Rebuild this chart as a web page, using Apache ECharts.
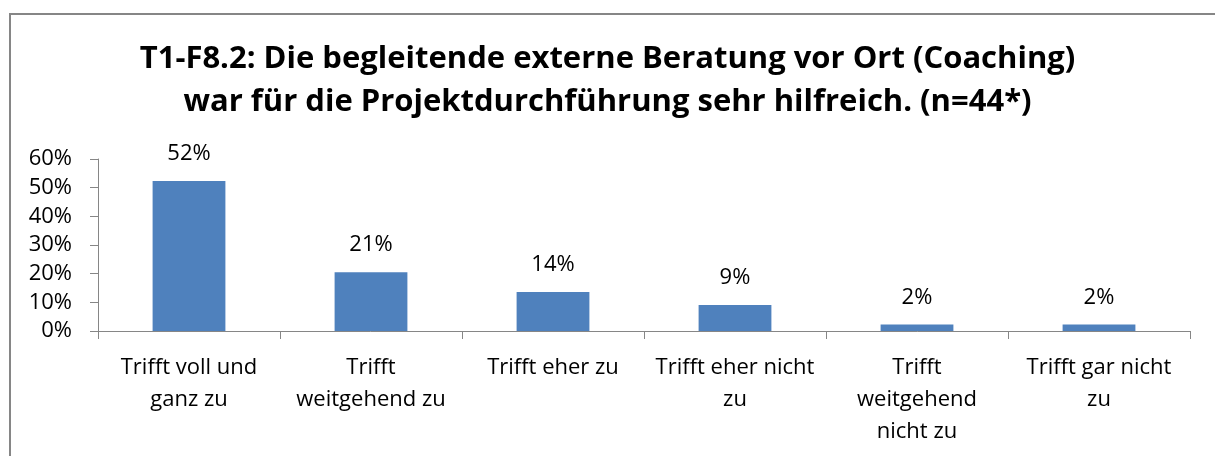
<!DOCTYPE html>
<html>
	<head>
		<meta charset="UTF-8">
		<title></title>
		<style>
			body { margin: 0; background: #fff; }
			#frame { position: absolute; left: 9px; top: 13px; width: 1220px; height: 460px; border-left: 2px solid #868686; border-top: 2px solid #868686; }
			#echart { position: absolute; left: 0; top: 0; width: 1215px; height: 456px; }
		</style>
	</head>
	<body>
		<div id="frame"></div>
		<div id="echart"></div>
		<script src="https://cdn.jsdelivr.net/npm/echarts@6/dist/echarts.min.js" type="text/javascript" charset="utf-8"></script>
		<script type="text/javascript">
			// Antwortkategorien (Umbruch wie im Original)
			var categories = ['Trifft voll und\nganz zu', 'Trifft\nweitgehend zu', 'Trifft eher zu', 'Trifft eher nicht\nzu', 'Trifft\nweitgehend\nnicht zu', 'Trifft gar nicht\nzu'];
			// Anteile in %, n=44
			var shares = [52.3, 20.5, 13.6, 9.1, 2.3, 2.3];
			var yTicks = [0, 10, 20, 30, 40, 50, 60];
			var titleText = 'T1-F8.2: Die begleitende externe Beratung vor Ort (Coaching)\nwar für die Projektdurchführung sehr hilfreich. (n=44*)';

			var font = '"Open Sans", "Liberation Sans", sans-serif';
			var myChart = echarts.init(document.getElementById('echart'), null, {renderer: 'canvas'});
			myChart.setOption({
				animation: false,
				textStyle: { fontFamily: font },
				title: {
					text: titleText,
					left: 'center',
					top: 33,
					textStyle: { fontSize: 31, fontWeight: 'bold', color: '#000', lineHeight: 43, fontFamily: font }
				},
				grid: { left: 98, right: 25, top: 159, bottom: 125, containLabel: false },
				xAxis: [{
					type: 'category',
					data: categories,
					axisLine: { lineStyle: { color: '#868686', width: 1 } },
					axisTick: { show: true, length: 8, alignWithLabel: false, lineStyle: { color: '#868686' } },
					axisLabel: { color: '#000', fontSize: 22, lineHeight: 32, margin: 21, interval: 0, fontFamily: font }
				}],
				yAxis: [{
					type: 'value',
					min: yTicks[0],
					max: yTicks[yTicks.length - 1],
					interval: 10,
					splitLine: { show: false },
					axisLine: { show: true, lineStyle: { color: '#868686', width: 1 } },
					axisTick: { show: true, length: 8, lineStyle: { color: '#868686' } },
					axisLabel: {
						color: '#000', fontSize: 22, margin: 26, fontFamily: font,
						formatter: function(v) { return v + '%'; }
					}
				}],
				series: [{
					type: 'bar',
					data: shares,
					barWidth: '40%',
					itemStyle: { color: '#4F81BD' },
					label: {
						show: true,
						position: 'top',
						distance: 16,
						color: '#000',
						fontSize: 22,
						fontFamily: font,
						formatter: function(p) { return Math.round(p.value) + '%'; }
					}
				}]
			});
		</script>
	</body>
</html>
